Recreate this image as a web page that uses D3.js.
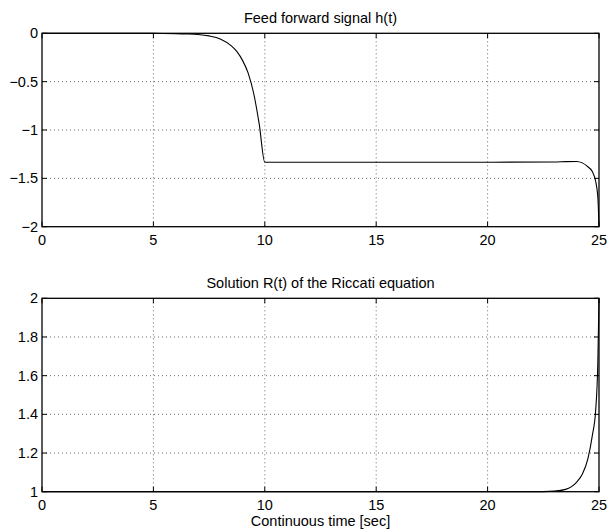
<!DOCTYPE html>
<html>
<head>
<meta charset="utf-8">
<script src="https://cdn.jsdelivr.net/npm/d3@7"></script>
<style>
  body { margin: 0; background: #fff; }
  text { font-family: "Liberation Sans", Arial, Helvetica, sans-serif; font-size: 14.5px; fill: #000; }
</style>
</head>
<body>
<div id="chart"></div>
<script>
// feed forward signal h(t)
var hTime = [0, 4, 5, 6, 6.5, 7, 7.5, 8, 8.5, 8.75, 9, 9.25, 9.5, 9.75, 10,
             15, 20, 23, 23.5, 24, 24.25, 24.5, 24.7, 24.85, 24.95, 25];
var hValue = [0, 0, -0.001, -0.003, -0.006, -0.012, -0.027, -0.058, -0.13, -0.19, -0.28, -0.41, -0.62, -0.94, -1.333,
              -1.333, -1.333, -1.331, -1.327, -1.325, -1.34, -1.38, -1.43, -1.53, -1.7, -2];

// Riccati solution R(t)
var rTime = [0, 10, 20, 22, 23, 23.5, 23.75, 24, 24.25, 24.5, 24.7, 24.85, 24.95, 25];
var rValue = [1, 1, 1, 1, 1.003, 1.012, 1.025, 1.05, 1.09, 1.17, 1.29, 1.42, 1.68, 2];

var xTicks = [0, 5, 10, 15, 20, 25];
var hTicks = [0, -0.5, -1, -1.5, -2];
var rTicks = [1, 1.2, 1.4, 1.6, 1.8, 2];

var width = 608;
var height = 531;
var left = 42, right = 599;

var svg = d3.select("#chart")
    .append("svg")
    .attr("width", width)
    .attr("height", height);

svg.append("rect").attr("width", width).attr("height", height).attr("fill", "#fff");

var x = d3.scaleLinear().domain([0, 25]).range([left, right]);

function fmt(v) {
    return (v < 0 ? "\u2212" : "") + Math.abs(v);
}

function panel(top, bottom, domain, yTicks, times, values, title) {
    var y = d3.scaleLinear().domain(domain).range([bottom, top]);
    var g = svg.append("g");

    // dotted grid
    g.selectAll(".gx").data(xTicks.slice(1, -1)).enter().append("line")
        .attr("x1", function(d) { return x(d); })
        .attr("x2", function(d) { return x(d); })
        .attr("y1", top).attr("y2", bottom)
        .attr("stroke", "#444").attr("stroke-width", 0.8)
        .attr("stroke-dasharray", "1,3");
    g.selectAll(".gy").data(yTicks.filter(function(d) { return d != domain[0] && d != domain[1]; }))
        .enter().append("line")
        .attr("x1", left).attr("x2", right)
        .attr("y1", function(d) { return y(d); })
        .attr("y2", function(d) { return y(d); })
        .attr("stroke", "#444").attr("stroke-width", 0.8)
        .attr("stroke-dasharray", "1,3");

    // the curve
    var line = d3.line()
        .x(function(d) { return x(d[0]); })
        .y(function(d) { return y(d[1]); })
        .curve(d3.curveMonotoneX);
    g.append("path")
        .datum(times.map(function(t, i) { return [t, values[i]]; }))
        .attr("d", line)
        .attr("fill", "none")
        .attr("stroke", "#000")
        .attr("stroke-width", 1.1);

    // inward ticks on all four sides
    var tl = 5;
    xTicks.forEach(function(t) {
        g.append("line").attr("x1", x(t)).attr("x2", x(t)).attr("y1", bottom).attr("y2", bottom - tl).attr("stroke", "#000");
        g.append("line").attr("x1", x(t)).attr("x2", x(t)).attr("y1", top).attr("y2", top + tl).attr("stroke", "#000");
    });
    yTicks.forEach(function(t) {
        g.append("line").attr("x1", left).attr("x2", left + tl).attr("y1", y(t)).attr("y2", y(t)).attr("stroke", "#000");
        g.append("line").attr("x1", right).attr("x2", right - tl).attr("y1", y(t)).attr("y2", y(t)).attr("stroke", "#000");
    });

    g.append("rect")
        .attr("x", left).attr("y", top)
        .attr("width", right - left).attr("height", bottom - top)
        .attr("fill", "none").attr("stroke", "#000").attr("stroke-width", 1.3);

    g.selectAll(".xl").data(xTicks).enter().append("text")
        .attr("x", function(d) { return x(d); })
        .attr("y", bottom + 18.5)
        .attr("text-anchor", "middle")
        .text(function(d) { return d; });

    g.selectAll(".yl").data(yTicks).enter().append("text")
        .attr("x", left - 4)
        .attr("y", function(d) { return y(d) + 5; })
        .attr("text-anchor", "end")
        .text(fmt);

    g.append("text")
        .attr("x", (left + right) / 2)
        .attr("y", top - 10.5)
        .attr("text-anchor", "middle")
        .text(title);
}

panel(33.3, 226.7, [-2, 0], hTicks, hTime, hValue, "Feed forward signal h(t)");
panel(298.3, 491.7, [1, 2], rTicks, rTime, rValue, "Solution R(t) of the Riccati equation");

svg.append("text")
    .attr("x", (left + right) / 2)
    .attr("y", 526)
    .attr("text-anchor", "middle")
    .text("Continuous time [sec]");
</script>
</body>
</html>
